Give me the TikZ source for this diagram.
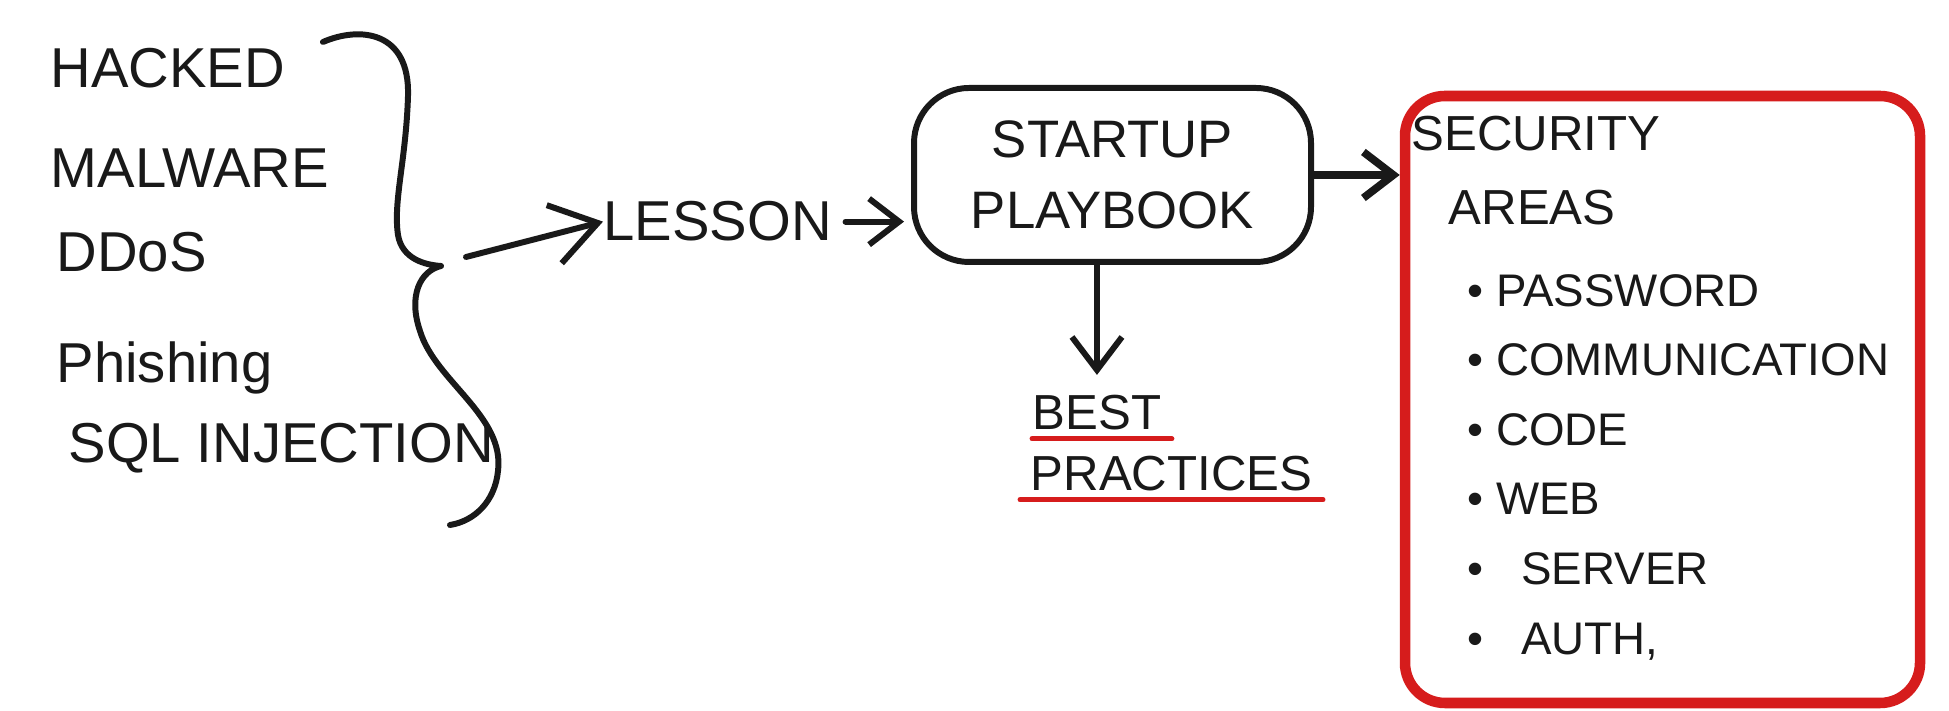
\documentclass[tikz,border=0pt]{standalone}
\usepackage{fontspec}
\setmainfont{Liberation Sans}
\definecolor{inkblack}{RGB}{25, 25, 25}
\definecolor{markerred}{RGB}{214, 28, 28}
\usetikzlibrary{arrows.meta, positioning, calc}

\begin{document}
\begin{tikzpicture}[
  ink/.style={draw=inkblack, line width=1.7pt, line cap=round, line join=round},
  barb/.style={ink, -{Straight Barb[length=3mm, width=4.6mm]}},
  attack/.style={font=\fontsize{16}{19}\selectfont, text=inkblack, inner sep=0pt, anchor=base west},
  note/.style={font=\fontsize{14}{18}\selectfont, text=inkblack, inner sep=0pt, anchor=base west},
  underline/.style={draw=markerred, line width=1.4pt, line cap=round}
]
  \useasboundingbox (0, 0) rectangle (19.49, 7.11);
  \fill[white] (0, 0) rectangle (19.49, 7.11);

  % Attacks (left)
  \node[attack] (hacked)   at (0.50, 6.23) {HACKED};
  \node[attack] (malware)  at (0.50, 5.23) {MALWARE};
  \node[attack] (ddos)     at (0.56, 4.39) {DDoS};
  \node[attack] (phishing) at (0.56, 3.28) {Phishing};
  \node[attack] (sqlinj)   at (0.68, 2.48) {SQL INJECTION};

  % Brace round the attacks
  \draw[ink] (3.23, 6.69) .. controls (3.60, 6.85) and (4.10, 6.80) .. (4.08, 6.15)
    .. controls (4.06, 5.50) and (3.93, 5.10) .. (3.98, 4.76)
    .. controls (4.02, 4.52) and (4.25, 4.46) .. (4.41, 4.45)
    .. controls (4.20, 4.40) and (4.08, 4.15) .. (4.20, 3.80)
    .. controls (4.35, 3.30) and (5.05, 2.95) .. (4.98, 2.40)
    .. controls (4.95, 2.10) and (4.75, 1.90) .. (4.50, 1.86);
  \coordinate (bracepoint) at (4.66, 4.54);

  % Lesson
  \node[attack] (lesson) at (6.03, 4.70) {LESSON};
  \draw[barb, -{Straight Barb[length=4.5mm, width=6mm]}] (bracepoint) -- (lesson.west);

  % Playbook
  \node[ink, rounded corners=0.55cm, minimum width=3.97cm, minimum height=1.74cm, align=center,
        font=\fontsize{15}{20}\selectfont, text=inkblack] (playbook) at (11.125, 5.36) {STARTUP\\PLAYBOOK};
  \draw[barb, shorten <=1.3mm, shorten >=0.7mm] (lesson.east) -- (lesson.east -| playbook.west);

  % Best practices (below)
  \node[note] (best)      at (10.32, 2.81) {BEST};
  \node[note] (practices) at (10.30, 2.20) {PRACTICES};
  \draw[underline] ([yshift=-2.5pt]best.base west) -- ([xshift=1mm, yshift=-2.5pt]best.base east);
  \draw[underline] ([xshift=-1mm, yshift=-2.5pt]practices.base west) -- ([xshift=1mm, yshift=-2.5pt]practices.base east);
  \draw[barb, -{Straight Barb[length=3.3mm, width=5mm]}, shorten >=2mm] (playbook.south -| best.north) -- (best.north);

  % Security areas (right)
  \node[draw=markerred, line width=3pt, rounded corners=0.4cm, minimum width=5.15cm, minimum height=6.07cm] (secbox) at (16.625, 3.115) {};
  \draw[barb, line width=2.2pt] (playbook.east) -- (playbook.east -| secbox.west);

  \node[note] (security) at (14.11, 5.60) {SECURITY};
  \node[note] (areas)    at (14.48, 4.86) {AREAS};

  \node[font=\fontsize{13}{19.8}\selectfont, text=inkblack, inner sep=0pt, align=left, anchor=north west] (arealist) at (14.67, 4.375) {
    \textbullet\ PASSWORD\\
    \textbullet\ COMMUNICATION\\
    \textbullet\ CODE\\
    \textbullet\ WEB\\
    \textbullet\hspace{0.25cm} SERVER\\
    \textbullet\hspace{0.25cm} AUTH,
  };
\end{tikzpicture}
\end{document}
